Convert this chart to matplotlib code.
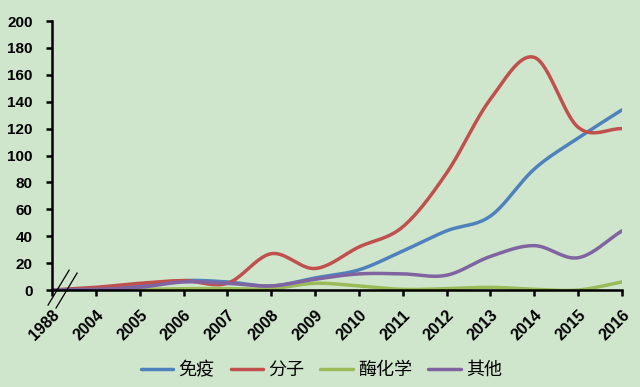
import numpy as np
import matplotlib.pyplot as plt
import matplotlib.transforms as mtransforms

plt.rcParams['font.family'] = ['Noto Sans CJK SC', 'DejaVu Sans']

years = ["1988", "2004", "2005", "2006", "2007", "2008", "2009", "2010",
         "2011", "2012", "2013", "2014", "2015", "2016"]
immune = [0, 1, 3, 7, 6, 3, 9, 15, 29, 44, 55, 90, 113, 134]
molecular = [0, 2, 5, 7, 5, 27, 16, 32, 47, 87, 142, 173, 121, 120]
enzyme = [0, 0, 0.5, 1, 1, 1, 5, 3, 0.5, 1, 2, 0.5, 0, 6]
other = [0, 0.5, 2, 6, 5, 3, 8, 12, 12, 11, 25, 33, 24, 44]

names = ["免疫", "分子", "酶化学", "其他"]
colors = ["#4F81BD", "#C0504D", "#9BBB59", "#8064A2"]


def smooth(y, n=20):
    # Catmull-Rom curve through the points, like Excel's smoothed line
    y = np.asarray(y, dtype=float)
    x = np.arange(len(y), dtype=float)
    p = np.concatenate([[2 * y[0] - y[1]], y, [2 * y[-1] - y[-2]]])
    xs, ys = [], []
    t = np.linspace(0, 1, n, endpoint=False)
    for i in range(len(y) - 1):
        p0, p1, p2, p3 = p[i], p[i + 1], p[i + 2], p[i + 3]
        seg = 0.5 * (2 * p1 + (-p0 + p2) * t + (2 * p0 - 5 * p1 + 4 * p2 - p3) * t ** 2
                     + (-p0 + 3 * p1 - 3 * p2 + p3) * t ** 3)
        xs.append(x[i] + t)
        ys.append(seg)
    xs.append([x[-1]])
    ys.append([y[-1]])
    return np.concatenate(xs), np.concatenate(ys)


bg = "#CFE6CC"
fig = plt.figure(figsize=(6.4, 3.87), dpi=100, facecolor=bg)
ax = fig.add_axes([0.0813, 0.2506, 0.8906, 0.695])
ax.set_facecolor(bg)

for vals, name, c in zip([immune, molecular, enzyme, other], names, colors):
    xs, ys = smooth(vals)
    ax.plot(xs, ys, color=c, lw=2.5, label=name, solid_capstyle="round")

ax.set_xlim(0, len(years) - 1)
ax.set_ylim(0, 200)
ax.set_yticks(range(0, 201, 20))
ax.set_xticks(range(len(years)))
ax.set_xticklabels(years, rotation=45, ha="right", va="top", rotation_mode="anchor",
                   fontsize=11.5, fontweight="bold", family="Liberation Sans")
shift = mtransforms.ScaledTranslation(0.05, 0, fig.dpi_scale_trans)
for lab in ax.get_xticklabels():
    lab.set_transform(lab.get_transform() + shift)
for lab in ax.get_yticklabels():
    lab.set_fontsize(11)
    lab.set_fontweight("bold")
    lab.set_family("Liberation Sans")

for s in ["top", "right"]:
    ax.spines[s].set_visible(False)
ax.spines["left"].set_linewidth(1.8)
ax.spines["bottom"].set_linewidth(1.8)
ax.tick_params(axis="y", width=1.8, length=4.5, direction="out", pad=9.5, colors="black")
ax.tick_params(axis="x", width=1.8, length=4.5, direction="out", pad=8, colors="black")

# axis break marks
ax.plot([-0.007, 0.030], [-0.056, 0.074], color="black", lw=0.9,
        transform=ax.transAxes, clip_on=False)
ax.plot([0.007, 0.044], [-0.067, 0.063], color="black", lw=0.9,
        transform=ax.transAxes, clip_on=False)

fig.legend(loc="center", bbox_to_anchor=(0.502, 0.044), ncol=4, frameon=False,
           fontsize=13, handlelength=1.8, handletextpad=0.28, columnspacing=0.9)

fig.savefig("out.png", dpi=100, facecolor=bg)
